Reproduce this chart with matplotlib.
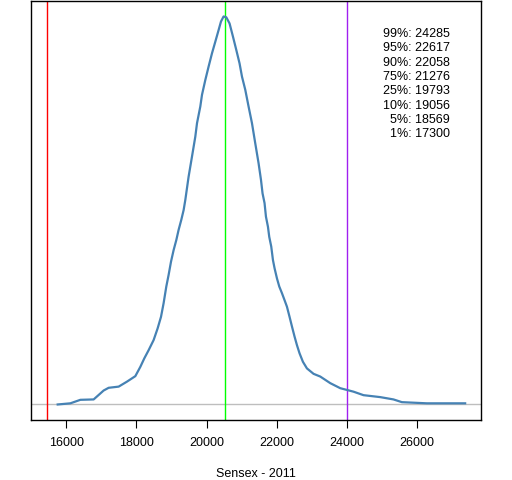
import matplotlib
matplotlib.use('Agg')
import matplotlib.pyplot as plt

plt.rcParams['font.family'] = ['Liberation Sans', 'DejaVu Sans']

# density curve (peak scaled to 1)
sensex = [15752, 16114, 16399, 16778, 17063, 17206, 17491, 17731, 17967, 18110,
          18224, 18347, 18489, 18603, 18700, 18774, 18851, 18917, 18985, 19060,
          19137, 19202, 19279, 19345, 19393, 19487, 19584, 19678, 19727, 19821,
          19869, 19963, 20058, 20154, 20249, 20343, 20411, 20485, 20562, 20656,
          20753, 20847, 20941, 21010, 21104, 21198, 21295, 21389, 21483, 21552,
          21597, 21654, 21694, 21751, 21788, 21845, 21894, 21940, 22008, 22074,
          22150, 22224, 22293, 22367, 22436, 22510, 22578, 22652, 22749, 22863,
          23052, 23243, 23528, 23813, 24192, 24477, 24953, 25333, 25572, 26285,
          27377]
density = [0.000, 0.003, 0.012, 0.013, 0.036, 0.043, 0.046, 0.059, 0.073, 0.097,
           0.119, 0.140, 0.166, 0.196, 0.226, 0.261, 0.304, 0.334, 0.368, 0.398,
           0.424, 0.450, 0.476, 0.501, 0.527, 0.587, 0.639, 0.690, 0.725, 0.768,
           0.798, 0.836, 0.871, 0.905, 0.935, 0.965, 0.987, 1.000, 0.998, 0.982,
           0.948, 0.914, 0.879, 0.845, 0.811, 0.768, 0.725, 0.673, 0.622, 0.579,
           0.544, 0.519, 0.484, 0.458, 0.432, 0.407, 0.372, 0.351, 0.325, 0.304,
           0.287, 0.269, 0.252, 0.226, 0.201, 0.175, 0.153, 0.132, 0.110, 0.093,
           0.079, 0.072, 0.055, 0.042, 0.033, 0.024, 0.019, 0.013, 0.006, 0.003,
           0.003]

# reference lines
start_value = 15440
median_value = 20514
end_value = 24000

quantile_names = ['99%', '95%', '90%', '75%', '25%', '10%', '5%', '1%']
quantile_values = [24285, 22617, 22058, 21276, 19793, 19056, 18569, 17300]

fig = plt.figure(figsize=(5.12, 4.8), dpi=100)
ax = fig.add_axes([0.0605, 0.125, 0.879, 0.873])

ax.axhline(0, color='#BEBEBE', lw=1)
ax.axvline(start_value, color='#FF0000', lw=1)
ax.axvline(median_value, color='#00FF00', lw=1)
ax.axvline(end_value, color='#A020F0', lw=1)
ax.plot(sensex, density, color='steelblue', lw=1.6)

ax.set_xlim(14990, 27830)
ax.set_ylim(-0.04, 1.04)
ax.set_xticks([16000, 18000, 20000, 22000, 24000, 26000])
ax.set_yticks([])
ax.tick_params(axis='x', length=6, labelsize=9, pad=6)
ax.set_xlabel('Sensex - 2011', fontsize=9, labelpad=14)
for s in ax.spines.values():
    s.set_linewidth(1)

for i, (name, val) in enumerate(zip(quantile_names, quantile_values)):
    ax.text(26950, 0.955 - i * 0.0369, '%s: %d' % (name, val),
            ha='right', va='center', fontsize=9)

fig.savefig('out.png', dpi=100)
